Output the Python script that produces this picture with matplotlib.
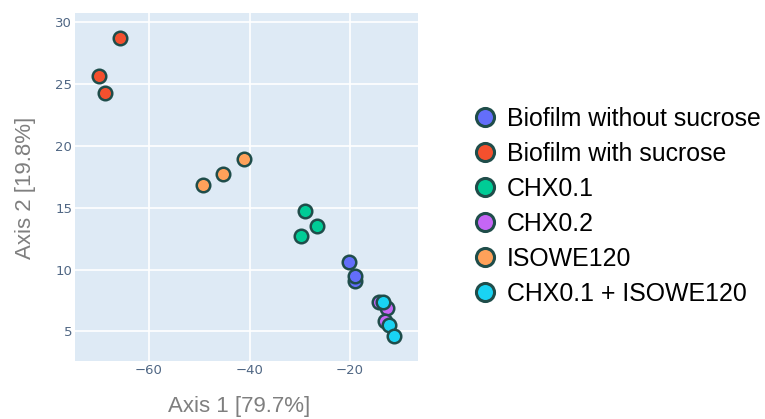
import numpy as np
import matplotlib
matplotlib.use('Agg')
import matplotlib.pyplot as plt
from matplotlib.lines import Line2D

# PCoA coordinates
groups = ['Biofilm without sucrose', 'Biofilm with sucrose', 'CHX0.1',
          'CHX0.2', 'ISOWE120', 'CHX0.1 + ISOWE120']
colors = ['#636EFA', '#F4502E', '#00CC96', '#C566F5', '#FFA15A', '#19D3F3']

x_wo_suc = [-20.3, -19.0, -19.0]
y_wo_suc = [10.6, 9.05, 9.5]
x_w_suc = [-65.8, -69.9, -68.8]
y_w_suc = [28.7, 25.65, 24.3]
x_chx01 = [-28.9, -26.5, -29.8]
y_chx01 = [14.7, 13.5, 12.7]
x_chx02 = [-14.3, -12.6, -13.1]
y_chx02 = [7.41, 6.9, 5.87]
x_iso = [-49.3, -45.2, -41.0]
y_iso = [16.8, 17.75, 18.95]
x_combo = [-13.5, -12.2, -11.2]
y_combo = [7.41, 5.53, 4.64]

xs = [x_wo_suc, x_w_suc, x_chx01, x_chx02, x_iso, x_combo]
ys = [y_wo_suc, y_w_suc, y_chx01, y_chx02, y_iso, y_combo]

edge = '#1F4D4A'
tick_col = '#506784'

fig = plt.figure(figsize=(7.65, 4.19), dpi=100)
W, H = 765, 419
ax = fig.add_axes([75 / W, 1 - 361 / H, (418 - 75) / W, (361 - 13) / H])
ax.set_facecolor('#DEEAF5')

for i in range(len(groups)):
    ax.scatter(xs[i], ys[i], s=95, c=colors[i], edgecolors=edge,
               linewidths=1.8, zorder=3)

ax.set_xlim(-74.7, -6.5)
ax.set_ylim(2.6, 30.75)
ax.set_xticks([-60, -40, -20])
ax.set_yticks([5, 10, 15, 20, 25, 30])
ax.set_xticklabels(['\u221260', '\u221240', '\u221220'])
ax.grid(True, color='white', linewidth=1.2)
ax.set_axisbelow(True)
for sp in ax.spines.values():
    sp.set_visible(False)
ax.tick_params(length=0, colors=tick_col, labelsize=9.5, pad=2)

fig.text(239 / W, 1 - 406 / H, 'Axis 1 [79.7%]', ha='center', va='center',
         fontsize=16, color='#7F7F7F', family='Liberation Sans')
fig.text(26 / W, 1 - 188 / H, 'Axis 2 [19.8%]', ha='center', va='center',
         rotation=90, fontsize=16, color='#7F7F7F', family='Liberation Sans')

handles = [Line2D([], [], marker='o', linestyle='none', markersize=13,
                  markerfacecolor=c, markeredgecolor=edge, markeredgewidth=2.2)
           for c in colors]
fig.legend(handles, groups, loc='upper left', bbox_to_anchor=(470 / W, 1 - 107 / H),
           frameon=False, prop={'family': 'Liberation Sans', 'size': 17.9},
           handletextpad=0.28, labelspacing=0.44, handlelength=1.2,
           borderaxespad=0, borderpad=0)

fig.savefig('out.png', dpi=100)
